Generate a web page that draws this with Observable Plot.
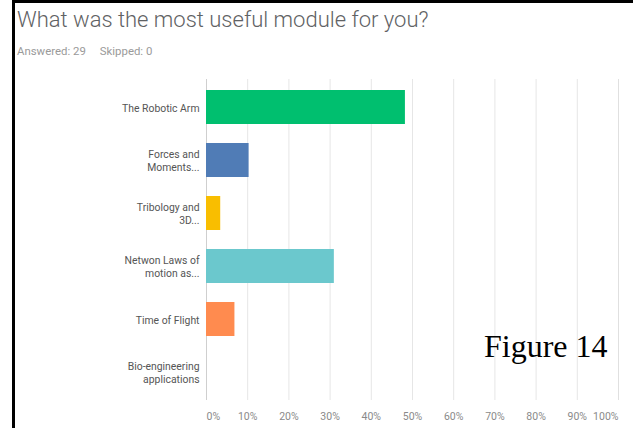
<!DOCTYPE html>
<html>
<head>
<meta charset="utf-8">
<script src="https://cdn.jsdelivr.net/npm/d3@7"></script>
<script src="https://cdn.jsdelivr.net/npm/@observablehq/plot@0.6"></script>
<style>
  html, body { margin: 0; padding: 0; background: #fff; }
  #wrap { position: relative; width: 633px; height: 428px; overflow: hidden; background: #fff; }
  #frameL { position: absolute; left: 12px; top: 0; width: 3px; height: 428px; background: #000; }
  #frameT { position: absolute; left: 12px; top: 0; width: 621px; height: 3px; background: #000; }
  #title { position: absolute; left: 17px; top: 7px; font-family: Roboto, sans-serif; font-weight: 300; font-size: 22px; color: #5f6264; white-space: nowrap; }
  #sub { position: absolute; left: 17px; top: 44px; font-family: Roboto, sans-serif; font-size: 11.4px; color: #9a9a9a; white-space: pre; }
  #sub span { margin-left: 14px; }
  #chart { position: absolute; left: 0; top: 70px; }
  #fig { position: absolute; left: 484px; top: 328px; font-family: "Liberation Serif", "Times New Roman", serif; font-size: 32px; color: #000; }
</style>
</head>
<body>
<div id="wrap">
  <div id="title">What was the most useful module for you?</div>
  <div id="sub">Answered: 29<span>Skipped: 0</span></div>
  <div id="chart"></div>
  <div id="fig">Figure 14</div>
  <div id="frameL"></div>
  <div id="frameT"></div>
</div>
<script>
const categories = [
  "The Robotic Arm",
  "Forces and\nMoments...",
  "Tribology and\n3D...",
  "Netwon Laws of\nmotion as...",
  "Time of Flight",
  "Bio-engineering\napplications"
];
const percents = [48.28, 10.34, 3.45, 31.03, 6.90, 0];
const colors = ["#00bf6f", "#507cb6", "#f9be00", "#6bc8cd", "#ff8b4f", "#7d5ba6"];
const xTicks = [0, 10, 20, 30, 40, 50, 60, 70, 80, 90, 100];

const data = categories.map((c, i) => ({category: c, value: percents[i], color: colors[i]}));
const fmt = d => d + "%";
const tickStyle = {tickSize: 0, tickPadding: 12, tickFormat: fmt, fontSize: 10.5, fill: "#8a8a8a", label: null};

const chart = Plot.plot({
  width: 633,
  height: 358,
  marginLeft: 206,
  marginRight: 15,
  marginTop: 9,
  marginBottom: 28,
  style: {fontFamily: "Roboto, sans-serif", background: "transparent"},
  x: {domain: [0, 100], ticks: xTicks},
  y: {domain: categories, paddingInner: 0.35, paddingOuter: 0.175},
  marks: [
    Plot.gridX(xTicks, {stroke: "#e6e6e6", strokeOpacity: 1, strokeWidth: 1}),
    Plot.ruleX([0], {stroke: "#cfcfcf"}),
    Plot.ruleX([100], {stroke: "#e0e0e0"}),
    Plot.ruleY([0], {frameAnchor: "bottom", stroke: "#d9d9d9"}),
    Plot.barX(data, {x: "value", y: "category", fill: "color"}),
    Plot.axisX(xTicks.slice(0, 1), {...tickStyle, textAnchor: "start"}),
    Plot.axisX(xTicks.slice(1, -1), tickStyle),
    Plot.axisX(xTicks.slice(-1), {...tickStyle, textAnchor: "end"}),
    Plot.axisY({tickSize: 0, tickPadding: 7, fontSize: 10.4, fill: "#555", lineHeight: 1.25, label: null})
  ]
});
document.getElementById("chart").appendChild(chart);
</script>
</body>
</html>
